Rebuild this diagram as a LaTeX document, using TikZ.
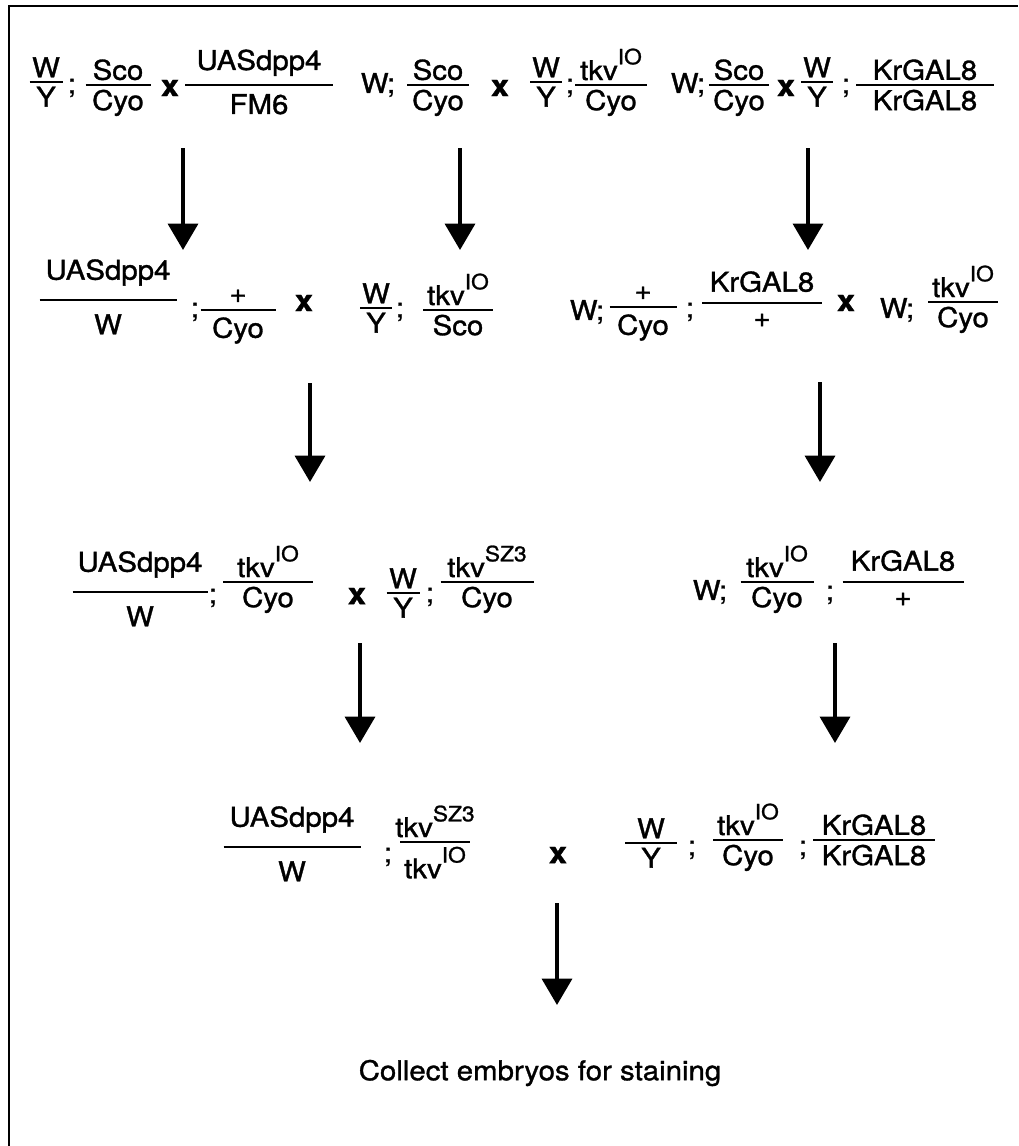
\documentclass[tikz,border=0pt]{standalone}
\usepackage{fontspec}
\setmainfont{TeX Gyre Heros}[FakeStretch=1.08, FakeBold=1.2]
\usetikzlibrary{arrows.meta}
\newcommand{\gsup}[1]{\raisebox{0.58em}{\fontsize{12}{12}\selectfont #1}}
% genotype fraction: [gap]{name}{x}{y}{bar width}{top}{bottom}
\newcommand{\gfrac}[7][2.5pt]{%
	\draw[bar] (#3-#5/2,#4) -- (#3+#5/2,#4);
	\node[num, yshift=#1] (#2-t) at (#3,#4) {#6};
	\node[den, yshift=-#1] (#2-b) at (#3,#4) {#7};}
\begin{document}
\begin{tikzpicture}[x=0.02cm, y=-0.02cm, font=\fontsize{15.5}{17}\selectfont, line cap=butt,
	bar/.style={line width=1.5pt},
	num/.style={anchor=south, inner sep=0pt},
	den/.style={anchor=north, inner sep=0pt},
	gene/.style={inner sep=0pt},
	cx/.style={inner sep=0pt, font=\fontsize{17}{17}\selectfont\bfseries},
	arr/.style={line width=2.2pt, -{Triangle[width=17pt, length=15pt]}},
	frame/.style={line width=1.7pt}]
	\useasboundingbox (0,0) rectangle (1018,1146);
	\draw[frame] (9,1146) -- (9,6) -- (1018,6);
	% first crosses
	\gfrac{r1a}{46}{82}{33}{W}{Y}
	\node[gene] (r1s1) at (72,88) {;};
	\gfrac{r1b}{118}{85}{65}{Sco}{Cyo}
	\node[cx] (r1x1) at (170,88) {x};
	\gfrac[5pt]{r1c}{259}{85}{148}{UASdpp4}{FM6}
	\node[gene] (r1w1) at (378,85) {W;};
	\gfrac{r1d}{438}{85}{62}{Sco}{Cyo}
	\node[cx] (r1x2) at (500,88) {x};
	\gfrac{r1e}{546}{82}{32}{W}{Y}
	\node[gene] (r1s2) at (570,88) {;};
	\gfrac{r1f}{611}{85}{72}{tkv\gsup{IO}}{Cyo}
	\node[gene] (r1w2) at (688,85) {W;};
	\gfrac{r1g}{739}{85}{60}{Sco}{Cyo}
	\node[cx] (r1x3) at (786,88) {x};
	\gfrac{r1h}{817}{82}{32}{W}{Y}
	\node[gene] (r1s3) at (846,88) {;};
	\gfrac{r1i}{925}{85}{138}{KrGAL8}{KrGAL8}
	% second crosses
	\gfrac[8pt]{r2a}{108}{300}{137}{UASdpp4}{W}
	\node[gene] (r2s1) at (195,312) {;};
	\gfrac[4pt]{r2b}{238}{310}{75}{+}{Cyo}
	\node[cx] (r2x1) at (304,303) {x};
	\gfrac{r2c}{376}{308}{32}{W}{Y}
	\node[gene] (r2s2) at (400,312) {;};
	\gfrac{r2d}{458}{310}{70}{tkv\gsup{IO}}{Sco}
	\node[gene] (r2w1) at (587,312) {W;};
	\gfrac[4pt]{r2e}{643}{307}{67}{+}{Cyo}
	\node[gene] (r2s3) at (690,312) {;};
	\gfrac[6pt]{r2f}{762}{303}{120}{KrGAL8}{+}
	\node[cx] (r2x2) at (846,303) {x};
	\node[gene] (r2w2) at (897,310) {W;};
	\gfrac{r2g}{963}{302}{70}{tkv\gsup{IO}}{Cyo}
	% third crosses
	\gfrac[8pt]{r3a}{140}{592}{135}{UASdpp4}{W}
	\node[gene] (r3s1) at (213,598) {;};
	\gfrac{r3b}{268}{582}{90}{tkv\gsup{IO}}{Cyo}
	\node[cx] (r3x1) at (357,596) {x};
	\gfrac{r3c}{403}{593}{33}{W}{Y}
	\node[gene] (r3s2) at (430,597) {;};
	\gfrac{r3d}{487}{582}{93}{tkv\gsup{SZ3}}{Cyo}
	\node[gene] (r3w1) at (710,592) {W;};
	\gfrac{r3e}{777}{582}{73}{tkv\gsup{IO}}{Cyo}
	\node[gene] (r3s3) at (830,595) {;};
	\gfrac[6pt]{r3f}{903}{582}{121}{KrGAL8}{+}
	% final cross
	\gfrac[8pt]{r4a}{292}{847}{137}{UASdpp4}{W}
	\node[gene] (r4s1) at (388,857) {;};
	\gfrac{r4b}{435}{842}{70}{tkv\gsup{SZ3}}{tkv\gsup{IO}}
	\node[cx] (r4x1) at (558,855) {x};
	\gfrac{r4c}{651}{843}{52}{W}{Y}
	\node[gene] (r4s2) at (692,850) {;};
	\gfrac{r4d}{748}{840}{70}{tkv\gsup{IO}}{Cyo}
	\node[gene] (r4s3) at (803,850) {;};
	\gfrac{r4e}{874}{840}{122}{KrGAL8}{KrGAL8}
	\node[gene] (stain) at (540,1073) {Collect embryos for staining};
	% arrows
	\foreach \x/\ya/\yb [count=\i] in {183/148/250, 460/148/250, 808/148/250, 310/383/482,
		820/382/482, 360/643/743, 835/643/743, 557/903/1005}{
		\coordinate (t\i) at (\x,\ya);
		\coordinate (h\i) at (\x,\yb);
		\draw[arr] (t\i) -- (h\i);
	}
\end{tikzpicture}
\end{document}
